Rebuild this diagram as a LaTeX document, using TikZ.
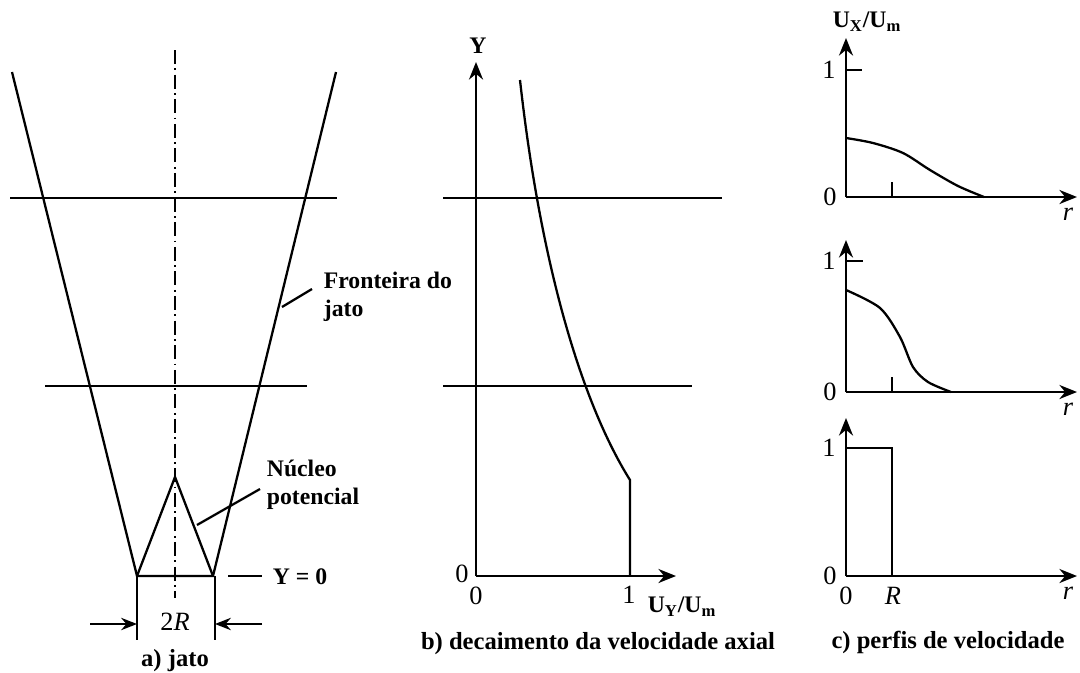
\documentclass[tikz,border=0pt]{standalone}
\usepackage{fontspec}
\setmainfont{Liberation Serif}
\usetikzlibrary{arrows.meta,positioning}

\begin{document}
\begin{tikzpicture}[
    x=0.02cm, y=-0.02cm,
    line width=1.3pt,
    axis/.style={-{Stealth[length=10pt,width=8pt]}},
    dimarrow/.style={-{Stealth[length=9pt,width=7pt]}},
    centerline/.style={line width=1pt, dash pattern=on 8pt off 2.5pt on 1pt off 2.5pt},
    lbl/.style={font=\fontsize{13.5}{15}\selectfont\bfseries, inner sep=1pt},
    note/.style={font=\fontsize{13.5}{16}\selectfont\bfseries, align=left, anchor=west, inner sep=1pt},
    num/.style={font=\fontsize{15}{16}\selectfont, inner sep=1pt},
    caption/.style={font=\fontsize{14}{16}\selectfont\bfseries, inner sep=1pt}
]
    \useasboundingbox (0,0) rectangle (1080,673);

    % a) jato
    \draw[centerline] (175,50) -- (175,598);
    \draw (12,72) -- (137,576) -- (213,576) -- (336,72);
    \draw (137,576) -- (175,477) -- (213,576);
    \draw (10,198) -- (337,198);
    \draw (45,386) -- (307,386);
    \draw (137,576) -- (137,640);
    \draw (215,576) -- (215,640);
    \coordinate (jetedge) at (282,307);
    \coordinate (coreedge) at (197,525);
    \node[note] (fronteira) at (321,297) {Fronteira do\\jato};
    \node[note] (nucleo) at (264,485) {Núcleo\\potencial};
    \draw (jetedge) -- (312,289);
    \draw (coreedge) -- (260,489);
    \node[lbl, anchor=west] (yzero) at (270,577) {Y = 0};
    \draw (228,576) -- (262,576);
    \node[num] (tworadius) at (175,622) {2\textit{R}};
    \coordinate (leftend) at (90,624);
    \coordinate (rightend) at (262,624);
    \draw[dimarrow] (leftend) -- (137,624);
    \draw[dimarrow] (rightend) -- (215,624);
    \node[caption] (capa) at (175,661) {a) jato};

    % b) decaimento
    \coordinate (borig) at (476,576);
    \draw[axis] (borig) -- (476,62);
    \draw[axis] (borig) -- (676,576);
    \node[lbl] (ylabel) at (478,46) {Y};
    \draw (443,198) -- (722,198);
    \draw (443,386) -- (692,386);
    \draw (520,80) .. controls (540,260) and (580,400) .. (630,480) -- (630,576);
    \node[num] at (462,574) {0};
    \node[num] at (476,596) {0};
    \node[num] at (629,595) {1};
    \node[lbl] (uylabel) at (682,607) {U\textsubscript{Y}/U\textsubscript{m}};
    \node[caption] (capb) at (598,644) {b) decaimento da velocidade axial};

    % c) perfis
    \foreach \base/\top/\one in {197/38/70, 392/240/261, 576/418/448} {
        \draw[axis] (846,\base) -- (846,\top);
        \draw[axis] (846,\base) -- (1077,\base);
        \node[num] at (830,\base) {0};
        \node[num] at (829,\one) {1};
        \node[num, font=\fontsize{15}{16}\selectfont\itshape] at (1068,\base+17) {r};
    }
    \node[lbl] (uxlabel) at (867,22) {U\textsubscript{X}/U\textsubscript{m}};
    % perfil desenvolvido
    \draw (846,70) -- (862,70);
    \draw (892,197) -- (892,182);
    \draw plot[smooth] coordinates {(846,138) (873,143) (903,153) (930,170) (958,186) (984,197)};
    % perfil intermediario
    \draw (846,261) -- (863,261);
    \draw (892,392) -- (892,377);
    \draw plot[smooth] coordinates {(846,290) (880,308) (900,337) (913,367) (928,382) (951,392)};
    % perfil inicial
    \draw (846,448) -- (892,448) -- (892,576);
    \node[num] at (846,596) {0};
    \node[num, font=\fontsize{15}{16}\selectfont\itshape] at (893,596) {R};
    \node[caption] (capc) at (948,642) {c) perfis de velocidade};
\end{tikzpicture}
\end{document}
